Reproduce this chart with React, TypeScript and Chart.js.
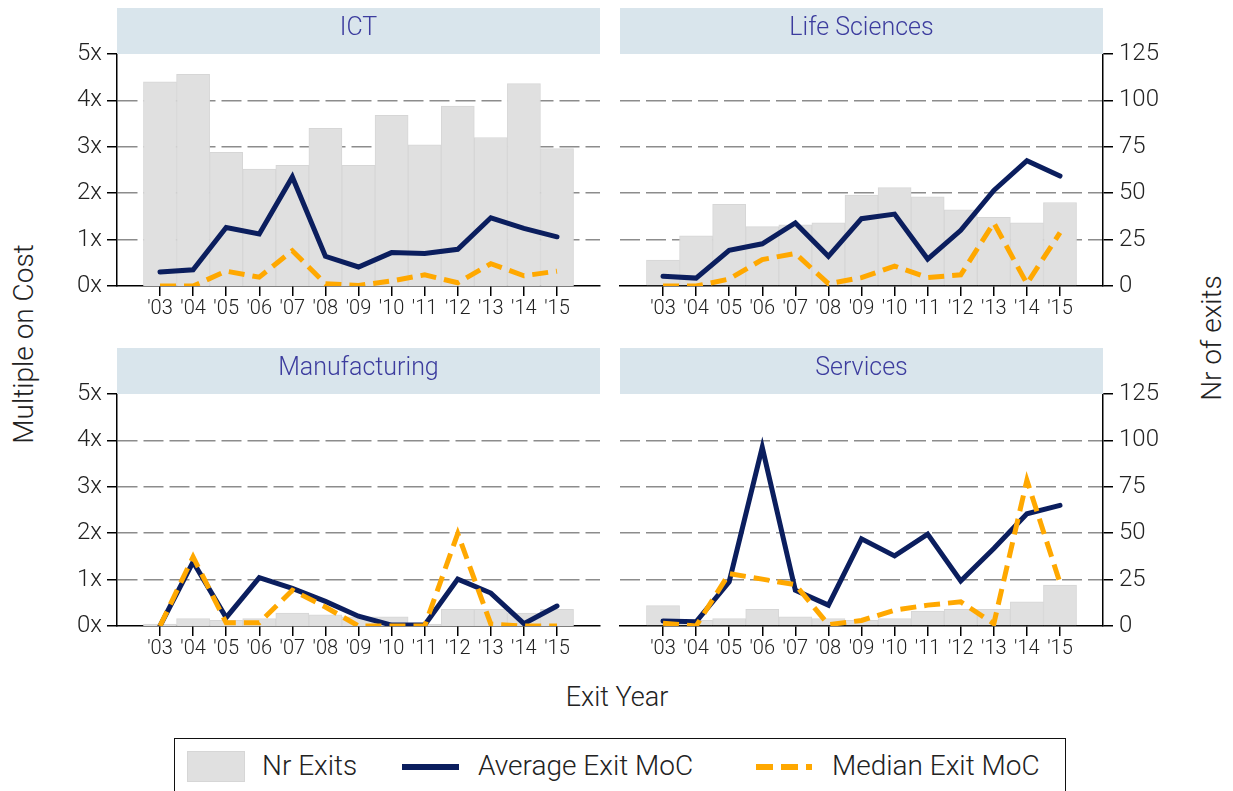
import React, { useEffect, useRef } from 'react';
import { Chart, registerables } from 'chart.js';

Chart.register(...registerables);

// ---- data ----
const years = [2003, 2004, 2005, 2006, 2007, 2008, 2009, 2010, 2011, 2012, 2013, 2014, 2015];
const mocTicks = [0, 1, 2, 3, 4, 5];
const exitTicks = [0, 25, 50, 75, 100, 125];

const ictExits = [110, 114, 72, 63, 65, 85, 65, 92, 76, 97, 80, 109, 74];
const ictAvg = [0.3, 0.35, 1.26, 1.12, 2.35, 0.64, 0.41, 0.72, 0.7, 0.79, 1.47, 1.24, 1.06];
const ictMedian = [0, 0, 0.32, 0.19, 0.76, 0.05, 0.01, 0.11, 0.24, 0.07, 0.48, 0.22, 0.32];

const lsExits = [14, 27, 44, 32, 33, 34, 49, 53, 48, 41, 37, 34, 45];
const lsAvg = [0.21, 0.17, 0.77, 0.91, 1.36, 0.64, 1.45, 1.55, 0.58, 1.2, 2.06, 2.7, 2.37];
const lsMedian = [0, 0, 0.15, 0.57, 0.7, 0.05, 0.18, 0.43, 0.18, 0.24, 1.36, 0.05, 1.15];

const mfExits = [1, 4, 3, 4, 7, 6, 5, 5, 1, 9, 9, 7, 9];
const mfAvg = [0, 1.38, 0.18, 1.04, 0.81, 0.53, 0.21, 0.02, 0.02, 1.01, 0.71, 0.05, 0.43];
const mfMedian = [0, 1.49, 0.07, 0.07, 0.77, 0.41, 0, 0, 0, 1.99, 0.04, 0, 0];

const svExits = [11, 3, 4, 9, 5, 4, 3, 4, 8, 9, 9, 13, 22];
const svAvg = [0.11, 0.09, 0.95, 3.85, 0.77, 0.45, 1.88, 1.51, 1.98, 0.97, 1.67, 2.42, 2.6];
const svMedian = [0.06, 0, 1.13, 1.01, 0.89, 0.03, 0.12, 0.34, 0.45, 0.52, 0.05, 3.14, 0.93];

// ---- styles ----
const NAVY = '#0b1e5e';
const ORANGE = '#ffa800';
const BAR = '#e0e0e0';
const BAR_EDGE = '#d6d6d6';
const GRID = '#8c8c8c';
const TEXT = '#222222';
const STRIP = '#d9e5ec';
const STRIP_TEXT = '#3c3c9e';
const FONT = 'Roboto';

Chart.defaults.font.family = FONT;
Chart.defaults.font.weight = 300 as any;

type Side = 'left' | 'right';

function Panel(props: { left: number; top: number; side: Side; exits: number[]; avg: number[]; median: number[] }) {
  const ref = useRef<HTMLCanvasElement>(null);
  const { left, top, side, exits, avg, median } = props;
  useEffect(() => {
    const isLeft = side === 'left';
    const pts = (arr: number[]) => years.map((x, i) => ({ x, y: arr[i] }));
    const gridColor = (max: number) => (ctx: any) => {
      const v = ctx.tick ? ctx.tick.value : 0;
      return v > 0 && v < max ? GRID : 'rgba(0,0,0,0)';
    };
    const chart = new Chart(ref.current as HTMLCanvasElement, {
      type: 'bar',
      data: {
        datasets: [
          {
            type: 'line',
            label: 'Median Exit MoC',
            data: pts(median),
            yAxisID: 'y',
            borderColor: ORANGE,
            borderWidth: 5,
            borderDash: [16, 8],
            borderCapStyle: 'butt',
            borderJoinStyle: 'miter',
            pointRadius: 0,
            tension: 0,
            order: 0,
          } as any,
          {
            type: 'line',
            label: 'Average Exit MoC',
            data: pts(avg),
            yAxisID: 'y',
            borderColor: NAVY,
            borderWidth: 5,
            borderCapStyle: 'round',
            borderJoinStyle: 'miter',
            pointRadius: 0,
            tension: 0,
            order: 1,
          } as any,
          {
            type: 'bar',
            label: 'Nr Exits',
            data: pts(exits),
            yAxisID: 'y2',
            backgroundColor: BAR,
            borderColor: BAR_EDGE,
            borderWidth: 1,
            barPercentage: 1,
            categoryPercentage: 1,
            order: 2,
          } as any,
        ],
      },
      options: {
        responsive: false,
        animation: false,
        layout: { padding: { top: 14, bottom: 0, left: isLeft ? 0 : 10, right: isLeft ? 10 : 0 } },
        plugins: { legend: { display: false }, tooltip: { enabled: false } },
        scales: {
          x: {
            type: 'linear',
            min: 2001.7,
            max: 2016.3,
            offset: false,
            afterBuildTicks: (s: any) => {
              s.ticks = years.map((v) => ({ value: v }));
            },
            afterFit: (s: any) => {
              s.height = 44;
              s.paddingLeft = 0;
              s.paddingRight = 0;
            },
            ticks: {
              autoSkip: false,
              maxRotation: 0,
              padding: 1,
              color: TEXT,
              font: { size: 20, family: FONT, weight: 300 as any },
              callback: (v: any) => "'" + String(v).slice(2),
            },
            grid: { drawOnChartArea: false, offset: false, color: '#000', tickLength: 10, lineWidth: 1.5, tickBorderDash: [] },
            border: { color: '#000', width: 1.5 },
          } as any,
          y: {
            display: isLeft,
            position: 'left',
            min: 0,
            max: 5,
            afterBuildTicks: (s: any) => {
              s.ticks = mocTicks.map((v) => ({ value: v }));
            },
            afterFit: (s: any) => {
              s.width = isLeft ? 67 : 0;
              s.paddingTop = 0;
              s.paddingBottom = 0;
            },
            ticks: {
              padding: 5,
              color: TEXT,
              font: { size: 24, family: FONT, weight: 300 as any },
              callback: (v: any) => v + 'x',
            },
            grid: {
              color: gridColor(5),
              lineWidth: 1.5,
              tickColor: '#000',
              tickLength: 10,
              tickWidth: 1.5,
              tickBorderDash: [],
            },
            border: { color: '#000', width: 1.5, dash: [20, 6] },
          } as any,
          y2: {
            display: !isLeft,
            position: 'right',
            min: 0,
            max: 125,
            afterBuildTicks: (s: any) => {
              s.ticks = exitTicks.map((v) => ({ value: v }));
            },
            afterFit: (s: any) => {
              s.width = isLeft ? 0 : 67;
              s.paddingTop = 0;
              s.paddingBottom = 0;
            },
            ticks: {
              padding: 6,
              color: TEXT,
              font: { size: 24, family: FONT, weight: 300 as any },
            },
            grid: {
              color: gridColor(125),
              lineWidth: 1.5,
              tickColor: '#000',
              tickLength: 10,
              tickWidth: 1.5,
              tickBorderDash: [],
            },
            border: { color: '#000', width: 1.5, dash: [20, 6] },
          } as any,
        },
      },
    });
    return () => chart.destroy();
  }, []);
  return (
    <canvas
      ref={ref}
      width={560}
      height={290}
      style={{ position: 'absolute', left, top, width: 560, height: 290 }}
    />
  );
}

function Strip(props: { left: number; top: number; text: string }) {
  const { left, top, text } = props;
  return (
    <div style={{ position: 'absolute', left, top, width: 483, height: 46, background: STRIP }}>
      <div
        style={{
          position: 'absolute',
          left: 0,
          width: 483,
          top: 19 - 13,
          height: 26,
          lineHeight: '26px',
          fontSize: 25,
          textAlign: 'center',
          color: STRIP_TEXT,
          whiteSpace: 'nowrap',
        }}
      >
        {text}
      </div>
    </div>
  );
}

export default function App() {
  const legendText: React.CSSProperties = {
    position: 'absolute',
    top: 766 - 14,
    height: 28,
    lineHeight: '28px',
    fontSize: 28,
    color: TEXT,
    whiteSpace: 'nowrap',
  };
  return (
    <div
      style={{
        position: 'absolute',
        left: 0,
        top: 0,
        width: 1233,
        height: 791,
        overflow: 'hidden',
        background: '#fff',
        fontFamily: FONT,
        fontWeight: 300,
      }}
    >
      <Panel left={50} top={40} side="left" exits={ictExits} avg={ictAvg} median={ictMedian} />
      <Panel left={610} top={40} side="right" exits={lsExits} avg={lsAvg} median={lsMedian} />
      <Panel left={50} top={380} side="left" exits={mfExits} avg={mfAvg} median={mfMedian} />
      <Panel left={610} top={380} side="right" exits={svExits} avg={svAvg} median={svMedian} />

      <Strip left={117} top={8} text="ICT" />
      <Strip left={620} top={8} text="Life Sciences" />
      <Strip left={117} top={348} text="Manufacturing" />
      <Strip left={620} top={348} text="Services" />

      <div
        style={{
          position: 'absolute',
          left: 24 - 150,
          top: 344 - 14,
          width: 300,
          height: 28,
          lineHeight: '28px',
          fontSize: 28,
          textAlign: 'center',
          color: TEXT,
          transform: 'rotate(-90deg)',
          whiteSpace: 'nowrap',
        }}
      >
        Multiple on Cost
      </div>
      <div
        style={{
          position: 'absolute',
          left: 1212 - 150,
          top: 338 - 14,
          width: 300,
          height: 28,
          lineHeight: '28px',
          fontSize: 28,
          textAlign: 'center',
          color: TEXT,
          transform: 'rotate(-90deg)',
          whiteSpace: 'nowrap',
        }}
      >
        Nr of exits
      </div>
      <div
        style={{
          position: 'absolute',
          left: 617 - 150,
          top: 697 - 14,
          width: 300,
          height: 28,
          lineHeight: '28px',
          fontSize: 27,
          textAlign: 'center',
          color: TEXT,
          whiteSpace: 'nowrap',
        }}
      >
        Exit Year
      </div>

      <div
        style={{
          position: 'absolute',
          left: 174,
          top: 738,
          width: 892,
          height: 80,
          border: '1.5px solid #111',
          boxSizing: 'border-box',
        }}
      />
      <div style={{ position: 'absolute', left: 187, top: 751, width: 58, height: 31, background: BAR, boxSizing: 'border-box', border: '1px solid #d6d6d6' }} />
      <div style={{ ...legendText, left: 262 }}>Nr Exits</div>
      <div style={{ position: 'absolute', left: 402, top: 764, width: 57, height: 6, background: NAVY }} />
      <div style={{ ...legendText, left: 478 }}>Average Exit MoC</div>
      <div
        style={{
          position: 'absolute',
          left: 756,
          top: 764,
          width: 56,
          height: 6,
          background: `repeating-linear-gradient(to right, ${ORANGE} 0px, ${ORANGE} 17px, transparent 17px, transparent 25px)`,
        }}
      />
      <div style={{ ...legendText, left: 832 }}>Median Exit MoC</div>
    </div>
  );
}
